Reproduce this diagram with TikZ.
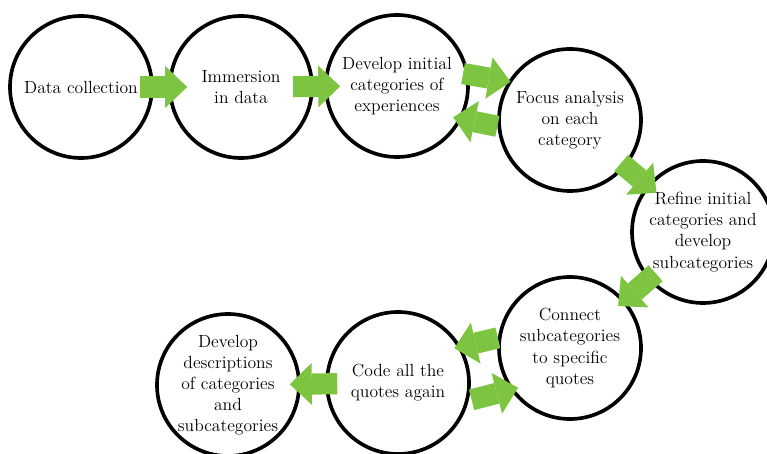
\documentclass[tikz,border=0pt]{standalone}
\usetikzlibrary{arrows.meta}
\definecolor{flowgreen}{RGB}{125,197,64}

\begin{document}
\begin{tikzpicture}[
	stage/.style={circle,draw,line width=2.6pt,minimum size=3.55cm,inner sep=0pt,align=center,font=\fontsize{12.5}{15}\selectfont},
	flow/.style={flowgreen,line width=0.53cm,-{Triangle[width=1.05cm,length=0.55cm,line width=0pt]}}
	]
		\useasboundingbox (0,0) rectangle (19.175,11.35);
		\node(s1) at (2.025,9.175)[stage]{Data collection};
		\node(s2) at (6.025,9.175)[stage]{Immersion\\in data};
		\node(s3) at (9.925,9.2)[stage]{Develop initial\\categories of\\experiences};
		\node(s4) at (14.25,8.35)[stage]{Focus analysis\\on each\\category};
		\node(s5) at (17.575,5.55)[stage]{Refine initial\\categories and\\develop\\subcategories};
		\node(s6) at (14.25,2.65)[stage]{Connect\\subcategories\\to specific\\quotes};
		\node(s7) at (9.95,1.775)[stage]{Code all the\\quotes again};
		\node(s8) at (5.7,1.725)[stage]{Develop\\descriptions\\of categories\\and\\subcategories};
		
		\draw[flow,shorten <=-0.35cm,shorten >=-0.475cm] (s1) to (s2);
		\draw[flow,shorten <=-0.525cm,shorten >=-0.4cm] (s2) to (s3);
		\draw[flow,shorten <=-0.15cm,shorten >=-0.06cm] (s3.9) to (s4.148);
		\draw[flow,shorten >=-0.225cm] (s4.185) to (s3.-27);
		\draw[flow,shorten <=-0.15cm,shorten >=-0.3cm] (s4) to (s5);
		\draw[flow,shorten <=-0.25cm,shorten >=-0.225cm] (s5) to (s6);
		\draw[flow,shorten >=-0.175cm] (s6.172) to (s7.30);
		\draw[flow,shorten <=0.075cm,shorten >=-0.2cm] (s7.-14) to (s6.215);
		\draw[flow,shorten <=-0.3cm,shorten >=-0.275cm] (s7) to (s8);
	\end{tikzpicture}
\end{document}
